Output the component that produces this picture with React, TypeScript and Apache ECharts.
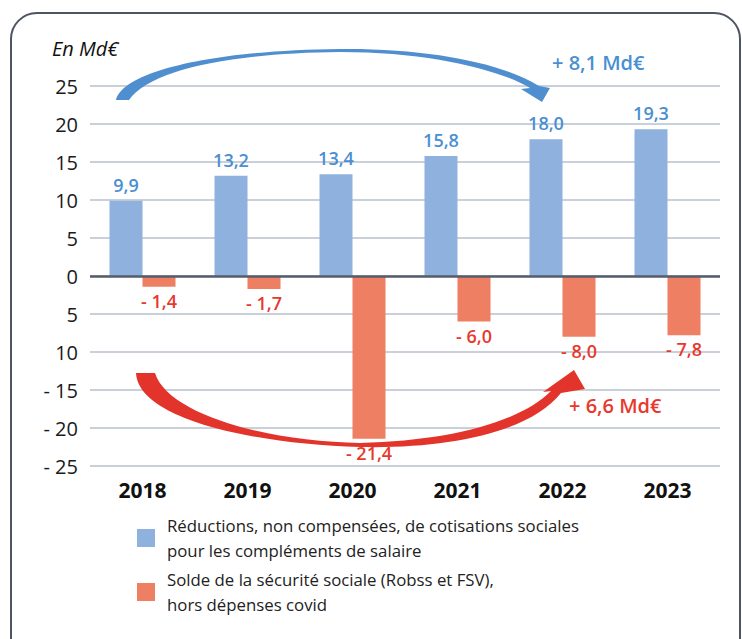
import React, { useEffect, useRef } from "react";
import * as echarts from "echarts";

const categories = ["2018", "2019", "2020", "2021", "2022", "2023"];
const reductions = [9.9, 13.2, 13.4, 15.8, 18.0, 19.3];
const solde = [-1.4, -1.7, -21.4, -6.0, -8.0, -7.8];
const yTickLabels = ["- 25", "- 20", "- 15", "10", "5", "0", "5", "10", "15", "20", "25"];
const seriesNames = [
  "Réductions, non compensées, de cotisations sociales pour les compléments de salaire",
  "Solde de la sécurité sociale (Robss et FSV), hors dépenses covid",
];
const legendLines: Record<string, string[]> = {
  [seriesNames[0]]: ["Réductions, non compensées, de cotisations sociales", "pour les compléments de salaire"],
  [seriesNames[1]]: ["Solde de la sécurité sociale (Robss et FSV),", "hors dépenses covid"],
};
const unitLabel = "En Md€";
const blueNote = "+ 8,1 Md€";
const redNote = "+ 6,6 Md€";

const BLUE_ARROW =
  "M116,100 C124,70 220,50 340,49 C430,48 505,64 539,86 L550,88 L542,102 L521,89 L530,88 C500,70 430,52 340,52 C230,53 150,70 129,100 Z";
const RED_ARROW =
  "M136,373 C138,418 250,444 360,447 C450,449 530,432 561,393 L585,389 L574,370 L543,392 L551,391 C520,422 450,441 360,443 C270,442 168,415 155,373 Z";

echarts.graphic.registerShape("blueArrow", echarts.graphic.extendPath(BLUE_ARROW, {}));
echarts.graphic.registerShape("redArrow", echarts.graphic.extendPath(RED_ARROW, {}));

const FONT = "Open Sans";
const fmt = (v: number) => (v < 0 ? "- " : "") + Math.abs(v).toFixed(1).replace(".", ",");

export default function App() {
  const ref = useRef<HTMLDivElement>(null);
  useEffect(() => {
    document.body.style.margin = "0";
    const chart = echarts.init(ref.current!, null, { renderer: "svg" });
    chart.setOption({
      animation: false,
      backgroundColor: "#ffffff",
      textStyle: { fontFamily: FONT },
      grid: { left: 90, right: 22, top: 86, bottom: 173, containLabel: false },
      legend: {
        orient: "vertical",
        left: 132,
        top: 512,
        itemWidth: 18,
        itemHeight: 18,
        itemGap: 12,
        icon: "rect",
        data: seriesNames,
        formatter: (name: string) => legendLines[name].map((l) => `{t|${l}}`).join("\n"),
        textStyle: {
          rich: {
            t: { fontFamily: FONT, fontSize: 16.8, color: "#222222", lineHeight: 25, padding: [0, 0, 0, 7] },
          },
        },
      },
      xAxis: {
        type: "category",
        data: categories,
        axisLine: { show: false },
        axisTick: { show: false },
        axisLabel: { fontFamily: FONT, fontSize: 21, fontWeight: "bold", color: "#111111", margin: 13 },
      },
      yAxis: {
        type: "value",
        min: -25,
        max: 25,
        interval: 5,
        axisLine: { show: false },
        axisTick: { show: false },
        axisLabel: {
          fontFamily: FONT,
          fontSize: 20,
          color: "#1a1a1a",
          margin: 12,
          formatter: (v: number) => yTickLabels[Math.round((v + 25) / 5)],
        },
        splitLine: { lineStyle: { color: "#b9c0cc", width: 1.5 } },
      },
      series: [
        {
          name: seriesNames[0],
          type: "bar",
          data: reductions,
          barWidth: 33,
          barGap: "0%",
          itemStyle: { color: "#8fb1de" },
          label: {
            show: true,
            position: "top",
            distance: 7,
            formatter: (p: any) => fmt(p.value),
            fontFamily: FONT,
            fontSize: 18,
            fontWeight: 600,
            color: "#4a8fd2",
          },
          markLine: {
            silent: true,
            symbol: "none",
            label: { show: false },
            lineStyle: { color: "#555d6b", width: 2.5, type: "solid" },
            data: [{ yAxis: 0 }],
          },
          z: 3,
        },
        {
          name: seriesNames[1],
          type: "bar",
          data: solde,
          barWidth: 33,
          barGap: "0%",
          itemStyle: { color: "#ef7f63" },
          label: {
            show: true,
            position: "bottom",
            distance: 5,
            formatter: (p: any) => fmt(p.value),
            fontFamily: FONT,
            fontSize: 18,
            fontWeight: 600,
            color: "#e8392e",
          },
          z: 2,
        },
      ],
      graphic: [
        {
          type: "rect",
          shape: { x: 11, y: 13, width: 729, height: 700, r: 26 },
          style: { fill: "none", stroke: "#4e5562", lineWidth: 2 },
          z: 0,
        },
        {
          type: "text",
          left: 52,
          top: 38,
          style: { text: unitLabel, fontFamily: FONT, fontSize: 20, fontStyle: "italic", fill: "#111111" },
        },
        { type: "blueArrow", x: 0, y: 0, style: { fill: "#4f8fcf" }, z: 10 },
        { type: "redArrow", x: 0, y: 0, style: { fill: "#e3342b" }, z: 10 },
        {
          type: "text",
          left: 552,
          top: 52,
          style: { text: blueNote, fontFamily: FONT, fontSize: 20, fontWeight: 600, fill: "#4a8fd2" },
        },
        {
          type: "text",
          left: 569,
          top: 395,
          style: { text: redNote, fontFamily: FONT, fontSize: 20, fontWeight: 600, fill: "#e8392e" },
        },
      ],
    });
    return () => chart.dispose();
  }, []);
  return <div ref={ref} style={{ width: 742, height: 639 }} />;
}
